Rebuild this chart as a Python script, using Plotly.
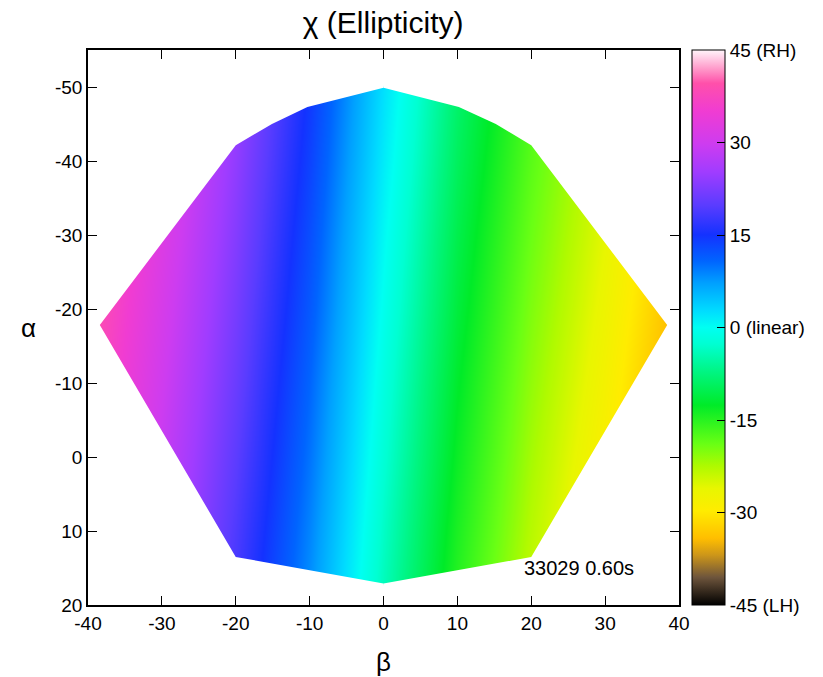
import plotly.graph_objects as go

# Grid of measured ellipticity chi (degrees) on beta (x) / alpha (y)
beta = [-40, -30, -20, -10, 0, 10, 20, 30, 40]
alpha = [-50, -40, -30, -20, -10, 0, 10, 20]
chi = [
    [43, 34, 25, 14.5, 2.3, -8.5, -17, -24, -32],
    [42, 33, 24, 13.6, 1.4, -9.4, -18, -25, -33],
    [41, 32, 23, 12.6, 0.4, -10.4, -19, -26, -34],
    [40, 31, 22, 11.7, -0.5, -11.3, -20, -27, -35],
    [39, 30, 21, 10.7, -1.5, -12.3, -21, -28, -36],
    [38, 29, 20, 9.8, -2.4, -13.2, -22, -29, -37],
    [37, 28, 19, 8.8, -3.4, -14.2, -23, -30, -38],
    [36, 27, 18, 7.9, -4.3, -15.1, -24, -31, -39],
]

# Outline of the measured domain (left half and right half, top -> bottom)
left_beta = [0, -10.3, -15.1, -20, -38.4, -20, -10, 0]
left_alpha = [-50, -47.4, -45.1, -42.2, -17.9, 13.5, 15.3, 17.1]
right_beta = [0, 10.2, 15.2, 20, 38.4, 20, 10, 0]
right_alpha = [-50, -47.4, -45.1, -42.2, -17.9, 13.5, 15.3, 17.1]

cbar_vals = [45, 30, 15, 0, -15, -30, -45]
cbar_text = ["45 (RH)", "30", "15", "0 (linear)", "-15", "-30", "-45 (LH)"]
x_ticks = [-40, -30, -20, -10, 0, 10, 20, 30, 40]
x_ticktext = ["-40", "-30", "-20", "-10", "0", "10", "20", "30", "40"]
y_ticks = [-50, -40, -30, -20, -10, 0, 10, 20]
y_ticktext = ["-50", "-40", "-30", "-20", "-10", "0", "10", "20"]
label_text = "33029 0.60s"

colorscale = [
    [0.00, "rgb(0,0,0)"],
    [0.05, "rgb(110,85,60)"],
    [0.09, "rgb(205,150,25)"],
    [0.12, "rgb(255,190,0)"],
    [0.17, "rgb(255,236,0)"],
    [0.21, "rgb(232,246,0)"],
    [0.25, "rgb(175,250,0)"],
    [0.29, "rgb(105,255,20)"],
    [0.36, "rgb(0,235,40)"],
    [0.42, "rgb(0,245,130)"],
    [0.47, "rgb(0,255,210)"],
    [0.50, "rgb(0,255,242)"],
    [0.53, "rgb(0,220,255)"],
    [0.58, "rgb(0,160,255)"],
    [0.62, "rgb(0,100,255)"],
    [0.667, "rgb(20,50,255)"],
    [0.72, "rgb(90,60,255)"],
    [0.78, "rgb(160,60,255)"],
    [0.83, "rgb(205,60,240)"],
    [0.89, "rgb(240,60,210)"],
    [0.94, "rgb(255,80,170)"],
    [0.965, "rgb(255,150,200)"],
    [1.00, "rgb(255,245,250)"],
]

FONT = "Liberation Sans, Arial, Helvetica, sans-serif"

fig = go.Figure()
fig.add_trace(go.Heatmap(
    x=beta, y=alpha, z=chi, zsmooth="best", zmin=-45, zmax=45,
    colorscale=colorscale, hoverinfo="skip",
    colorbar=dict(
        thickness=33, thicknessmode="pixels", len=1, lenmode="fraction",
        x=1.022, xanchor="left", y=0.5, yanchor="middle", ypad=0, xpad=0,
        outlinewidth=1, outlinecolor="black",
        tickvals=cbar_vals, ticktext=cbar_text, ticks="inside", ticklen=8,
        tickcolor="black", tickfont=dict(family=FONT, size=19, color="black"),
    ),
))

# white masks outside the measured domain
far_top, far_bot, far_side = -70, 35, 60
lx = [3] + left_beta + [3, -far_side, -far_side]
ly = [far_top] + left_alpha + [far_bot, far_bot, far_top]
rx = [-3] + right_beta + [-3, far_side, far_side]
ry = [far_top] + right_alpha + [far_bot, far_bot, far_top]
for mx, my in ((lx, ly), (rx, ry)):
    fig.add_trace(go.Scatter(x=mx, y=my, fill="toself", fillcolor="white",
                             mode="lines", line=dict(width=0, color="white"),
                             hoverinfo="skip", showlegend=False))

fig.add_annotation(x=18.8, y=15.0, xref="x", yref="y", text=label_text,
                   showarrow=False, xanchor="left", yanchor="middle",
                   font=dict(family=FONT, size=20, color="black"))
fig.add_annotation(x=-0.1015, y=0.499, xref="paper", yref="paper", text="α",
                   showarrow=False, xanchor="center", yanchor="middle",
                   font=dict(family=FONT, size=26, color="black"))
fig.add_annotation(x=0.5, y=-0.103, xref="paper", yref="paper", text="β",
                   showarrow=False, xanchor="center", yanchor="middle",
                   font=dict(family=FONT, size=26, color="black"))

axis_common = dict(showgrid=False, zeroline=False, showline=True, linecolor="black",
                   linewidth=1.5, mirror="ticks", ticks="inside", ticklen=9,
                   tickwidth=1.3, tickcolor="black",
                   tickfont=dict(family=FONT, size=19, color="black"))
fig.update_layout(
    width=823, height=677,
    margin=dict(l=88, r=144, t=50, b=72, autoexpand=False),
    paper_bgcolor="white", plot_bgcolor="white",
    title=dict(text="χ (Ellipticity)", x=0.4655, xanchor="center", y=0.967,
               yanchor="middle", xref="container", yref="container",
               font=dict(family=FONT, size=30, color="black")),
    xaxis=dict(range=[-40, 40], tickvals=x_ticks, ticktext=x_ticktext, **axis_common),
    yaxis=dict(range=[20, -55.1], tickvals=y_ticks, ticktext=y_ticktext, **axis_common),
    showlegend=False,
)

fig.write_html("out.html")
